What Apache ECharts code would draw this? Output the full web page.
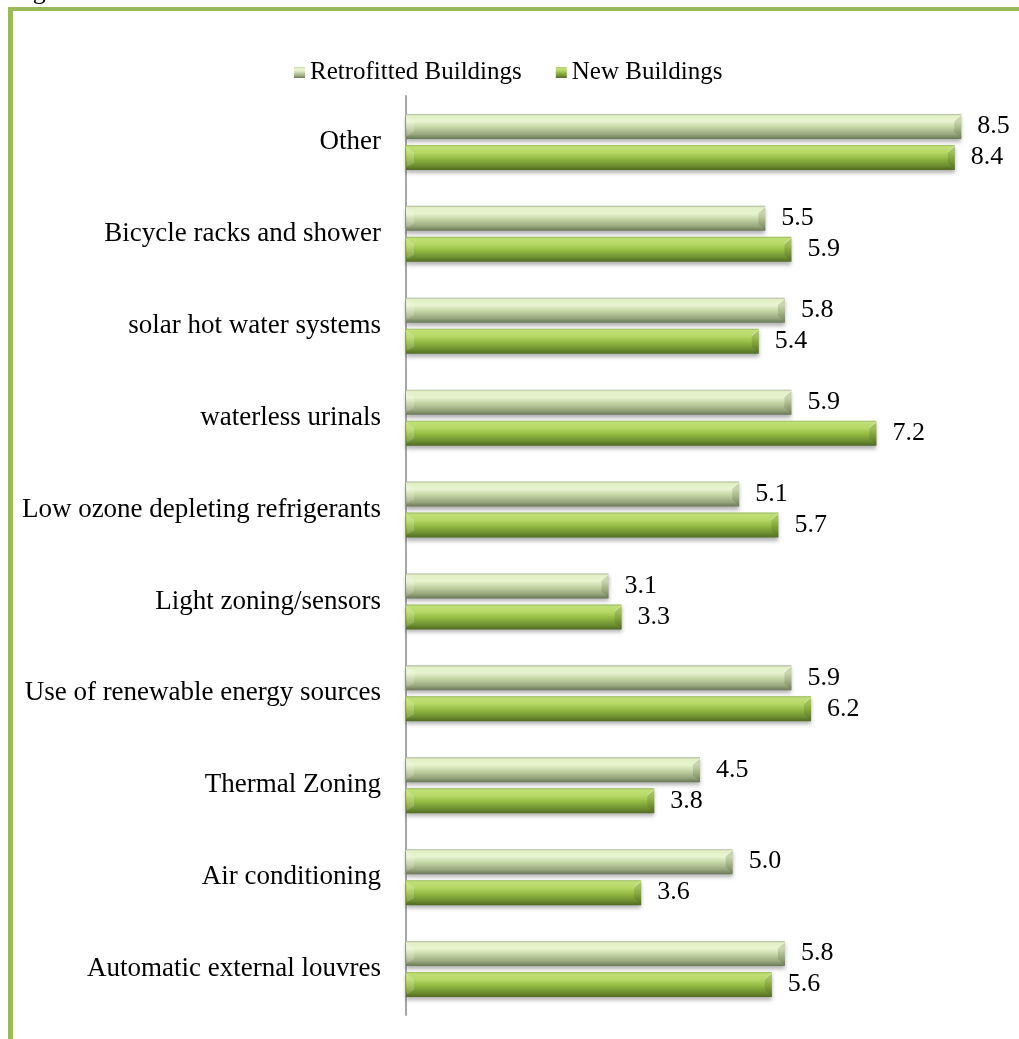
<!DOCTYPE html>
<html>
<head>
<meta charset="utf-8">
<style>
  html, body { margin: 0; padding: 0; background: #ffffff; }
  #chart { width: 1019px; height: 1039px; }
</style>
<script src="https://cdn.jsdelivr.net/npm/echarts@6/dist/echarts.min.js"></script>
</head>
<body>
<div id="chart"></div>
<script>
// Categories, listed top to bottom
const categories = [
  'Other',
  'Bicycle racks and shower',
  'solar hot water systems',
  'waterless urinals',
  'Low ozone depleting refrigerants',
  'Light zoning/sensors',
  'Use of renewable energy sources',
  'Thermal Zoning',
  'Air conditioning',
  'Automatic external louvres'
];
const retrofitted = [8.5, 5.5, 5.8, 5.9, 5.1, 3.1, 5.9, 4.5, 5.0, 5.8];
const newBuildings = [8.4, 5.9, 5.4, 7.2, 5.7, 3.3, 6.2, 3.8, 3.6, 5.6];
const seriesNames = ['Retrofitted Buildings', 'New Buildings'];

const FONT = '"Liberation Serif", "Times New Roman", serif';
const BAR_W = 25;
const BAR_GAP = 6;

function vGrad(stops) {
  return new echarts.graphic.LinearGradient(0, 0, 0, 1,
    stops.map(s => ({ offset: s[0], color: s[1] })));
}

const retroFill = vGrad([
  [0, '#aab59c'], [0.07, '#e2efc4'], [0.3, '#e8f4cf'],
  [0.55, '#c2d3a2'], [0.82, '#97a67c'], [1, '#6a7756']
]);
const newFill = vGrad([
  [0, '#94b652'], [0.07, '#c0df78'], [0.3, '#b6d866'],
  [0.55, '#92b942'], [0.82, '#6f8f31'], [1, '#506a22']
]);

const labelStyle = {
  show: true,
  position: 'right',
  distance: 16,
  fontFamily: FONT,
  fontSize: 26,
  color: '#000',
  formatter: p => p.value.toFixed(1)
};

// Bevelled end caps drawn on top of each bar
function bevelRenderer(slot) {
  return function (params, api) {
    const catIdx = api.value(0);
    const val = api.value(1);
    const start = api.coord([0, catIdx]);
    const end = api.coord([val, catIdx]);
    const offset = slot === 0 ? -(BAR_W + BAR_GAP) / 2 : (BAR_W + BAR_GAP) / 2;
    const cy = start[1] + offset;
    const top = cy - BAR_W / 2;
    const bot = cy + BAR_W / 2;
    const x0 = start[0] + 1;
    const x1 = end[0];
    const b = 7;
    return {
      type: 'group',
      silent: true,
      children: [
        {
          type: 'polygon',
          shape: { points: [[x0, top + 2], [x0 + b, top + b], [x0 + b, bot - b], [x0, bot - 3]] },
          style: { fill: 'rgba(255,255,255,0.18)' }
        },
        {
          type: 'polygon',
          shape: { points: [[x1 - b, top + b], [x1, top + 1], [x1, bot - 1], [x1 - b, bot - b]] },
          style: { fill: 'rgba(60,70,40,0.18)' }
        },
        {
          type: 'line',
          shape: { x1: x1 - b, y1: top + b, x2: x1, y2: top + 1 },
          style: { stroke: 'rgba(255,255,255,0.45)', lineWidth: 1 }
        }
      ]
    };
  };
}

const chart = echarts.init(document.getElementById('chart'), null, { renderer: 'canvas' });

chart.setOption({
  backgroundColor: '#ffffff',
  animation: false,
  legend: {
    data: seriesNames,
    left: 289,
    top: 55,
    itemWidth: 11,
    itemHeight: 11,
    itemGap: 34,
    icon: 'rect',
    textStyle: { fontFamily: FONT, fontSize: 25, color: '#000' }
  },
  grid: { left: 406, right: 25, top: 96, bottom: 24, containLabel: false },
  xAxis: {
    type: 'value',
    min: 0,
    max: 9,
    show: false
  },
  yAxis: {
    type: 'category',
    data: categories,
    inverse: true,
    axisLine: { show: true, lineStyle: { color: '#a6a6a6', width: 2 } },
    axisTick: { show: false },
    axisLabel: { fontFamily: FONT, fontSize: 27, color: '#000', margin: 25 }
  },
  series: [
    {
      name: seriesNames[0],
      type: 'bar',
      data: retrofitted,
      barWidth: BAR_W,
      barGap: (BAR_GAP / BAR_W * 100) + '%',
      itemStyle: {
        color: retroFill,
        shadowColor: 'rgba(0,0,0,0.3)',
        shadowBlur: 4,
        shadowOffsetY: 3
      },
      label: labelStyle
    },
    {
      name: seriesNames[1],
      type: 'bar',
      data: newBuildings,
      barWidth: BAR_W,
      barGap: (BAR_GAP / BAR_W * 100) + '%',
      itemStyle: {
        color: newFill,
        shadowColor: 'rgba(0,0,0,0.3)',
        shadowBlur: 4,
        shadowOffsetY: 3
      },
      label: labelStyle
    },
    {
      type: 'custom',
      renderItem: bevelRenderer(0),
      data: retrofitted.map((v, i) => [i, v]),
      encode: { x: 1, y: 0 },
      silent: true,
      z: 3
    },
    {
      type: 'custom',
      renderItem: bevelRenderer(1),
      data: newBuildings.map((v, i) => [i, v]),
      encode: { x: 1, y: 0 },
      silent: true,
      z: 3
    }
  ],
  graphic: [
    // Page frame on the left and top edges
    { type: 'rect', left: 8, top: 7, shape: { width: 5, height: 1040 }, style: { fill: '#9bbb59' }, silent: true },
    { type: 'rect', left: 8, top: 7, shape: { width: 1020, height: 4 }, style: { fill: '#9bbb59' }, silent: true },
    // Caption text running above the frame
    { type: 'text', x: 11, y: 5, style: { text: 'Figure', font: '26px ' + FONT, fill: '#000', verticalAlign: 'bottom' }, silent: true }
  ]
});
</script>
</body>
</html>
